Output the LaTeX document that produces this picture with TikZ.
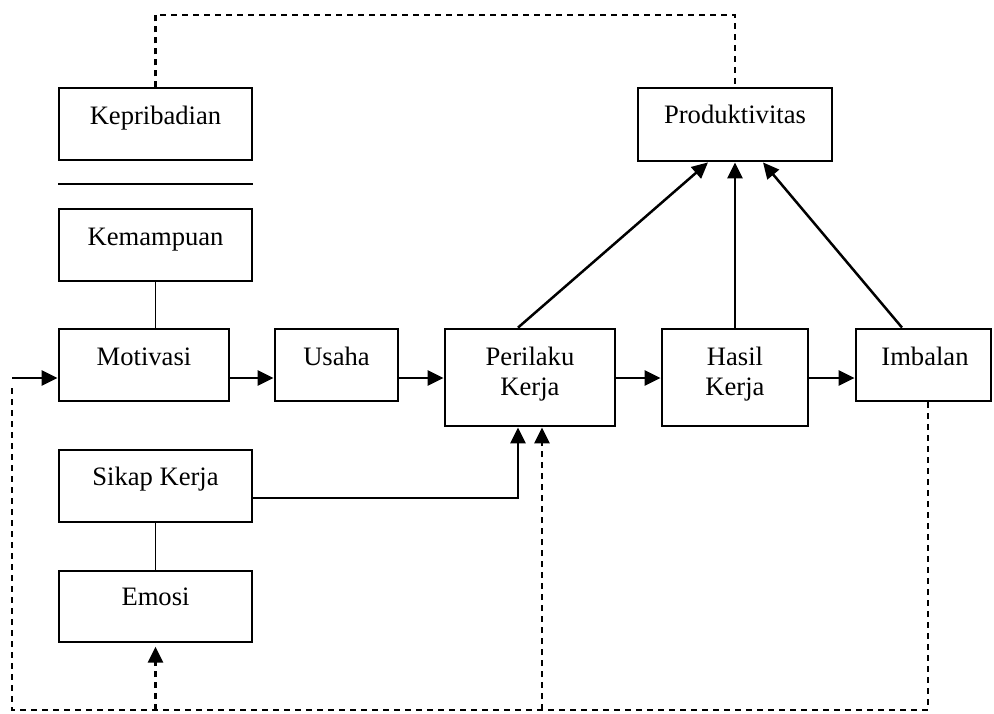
\documentclass[tikz,border=0pt]{standalone}
\usepackage{fontspec}
\setmainfont{Liberation Serif}
\usetikzlibrary{arrows.meta,fit}
\begin{document}
\begin{tikzpicture}[x=0.5pt,y=-0.5pt,
  thickbox/.style={draw, line width=1.4pt, inner sep=0pt},
  thinbox/.style={draw, line width=0.65pt, inner sep=0pt},
  lbl/.style={anchor=base, inner sep=0pt, font=\fontsize{13.3pt}{16pt}\selectfont},
  tip/.style={-{Triangle[length=8pt,width=7.5pt]}},
  arr/.style={line width=1.25pt, tip},
  thinline/.style={line width=0.65pt},
  dsh/.style={line width=1.4pt, dash pattern=on 3pt off 2.5pt}]
\useasboundingbox (0,0) rectangle (994,713);
% boxes
\node[thinbox, fit={(59,88) (252,160)}] (kep) {};
\node[thinbox, fit={(59,209) (252,281)}] (kem) {};
\node[thickbox, fit={(59,329) (229,401)}] (mot) {};
\node[thickbox, fit={(275,329) (398,401)}] (usa) {};
\node[thickbox, fit={(445,329) (615,426)}] (per) {};
\node[thickbox, fit={(662,329) (808,426)}] (has) {};
\node[thickbox, fit={(856,329) (991,401)}] (imb) {};
\node[thickbox, fit={(638,88) (832,161)}] (prod) {};
\node[thinbox, fit={(59,450) (252,522)}] (sik) {};
\node[thinbox, fit={(59,571) (252,642)}] (emo) {};
% labels
\node[lbl] (tkep) at (155.5,124) {Kepribadian};
\node[lbl] (tkem) at (155.5,245) {Kemampuan};
\node[lbl] (tmot) at (144,365) {Motivasi};
\node[lbl] (tusa) at (336.5,365) {Usaha};
\node[lbl] (tper1) at (530,365) {Perilaku};
\node[lbl] (tper2) at (530,395) {Kerja};
\node[lbl] (thas1) at (735,365) {Hasil};
\node[lbl] (thas2) at (735,395) {Kerja};
\node[lbl] (timb) at (925,365) {Imbalan};
\node[lbl] (tprod) at (735,123) {Produktivitas};
\node[lbl] (tsik) at (155.5,485) {Sikap Kerja};
\node[lbl] (temo) at (155.5,605) {Emosi};
% separator line
\coordinate (sepl) at (58,184);
\coordinate (sepr) at (253,184);
\draw[line width=1.2pt] (sepl) -- (sepr);
% coordinates
\coordinate (ya) at (0,378);
\coordinate (sy) at (0,498);
\coordinate (sx) at (518,0);
\coordinate (in) at (12,378);
\coordinate (bot) at (0,710);
% thin connectors
\draw[thinline] (kem.south) -- (kem.south |- mot.north);
\draw[thinline] (sik.south) -- (sik.south |- emo.north);
% main flow
\draw[arr] (in) -- (mot.west |- ya);
\draw[arr] (mot.east |- ya) -- (usa.west |- ya);
\draw[arr] (usa.east |- ya) -- (per.west |- ya);
\draw[arr] (per.east |- ya) -- (has.west |- ya);
\draw[arr] (has.east |- ya) -- (imb.west |- ya);
\draw[arr] (sik.east |- sy) -- (sx |- sy) -- (sx |- per.south);
% to productivity
\draw[arr] (per.north -| sx) -- (prod.south -| 708,0);
\draw[arr] (has.north) -- (prod.south);
\draw[arr] (imb.north -| 902,0) -- (prod.south -| 763,0);
% dashed feedback
\draw[dsh] (kep.north) -- (kep.north |- 0,15) -- (prod.north |- 0,15) -- (prod.north);
\draw[dsh] (imb.south -| 928,0) -- (928,710) -- (12,710) -- (12,386);
\draw[dsh, tip] (542,710) -- (per.south -| 542,0);
\draw[dsh, tip, shorten >=2pt] (emo.south |- bot) -- (emo.south);
\end{tikzpicture}
\end{document}
